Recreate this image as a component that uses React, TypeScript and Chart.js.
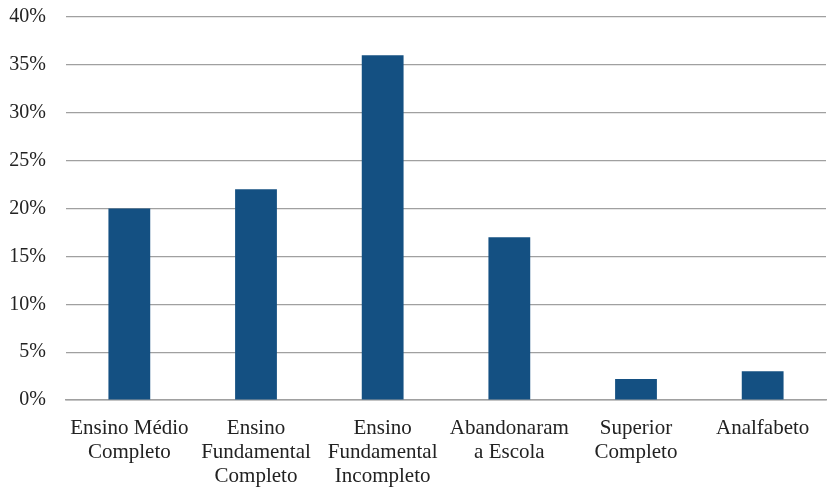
import React, { useEffect, useRef } from "react";
import { Chart, registerables } from "chart.js";

Chart.register(...registerables);

const categories: string[][] = [
  ["Ensino Médio", "Completo"],
  ["Ensino", "Fundamental", "Completo"],
  ["Ensino", "Fundamental", "Incompleto"],
  ["Abandonaram", "a Escola"],
  ["Superior", "Completo"],
  ["Analfabeto"],
];
const values: number[] = [20.0, 22.0, 36.0, 17.0, 2.2, 3.0];
const yMin = 0;
const yMax = 40;
const yStep = 5;

export default function App() {
  const ref = useRef<HTMLCanvasElement>(null);
  useEffect(() => {
    document.body.style.margin = "0";
    const family = "'Liberation Serif', 'DejaVu Serif', serif";
    const chart = new Chart(ref.current!, {
      type: "bar",
      data: {
        labels: categories,
        datasets: [
          {
            data: values,
            backgroundColor: "#145082",
            barPercentage: 0.33,
            categoryPercentage: 1,
          },
        ],
      },
      options: {
        animation: false,
        responsive: false,
        maintainAspectRatio: false,
        layout: { padding: { left: 9, right: 3, top: 17, bottom: 0 } },
        plugins: { legend: { display: false }, tooltip: { enabled: false } },
        scales: {
          x: {
            grid: { display: false, drawTicks: false },
            border: { display: true, color: "#a0a0a0", width: 1.5 },
            ticks: {
              color: "#222",
              font: { family, size: 21, lineHeight: "24px" },
              padding: 16,
              maxRotation: 0,
              minRotation: 0,
              autoSkip: false,
            },
            afterFit: (s: any) => {
              s.height = 88;
              s.paddingLeft = 0;
              s.paddingRight = 0;
              s.paddingTop = 0;
              s.paddingBottom = 0;
            },
          },
          y: {
            min: yMin,
            max: yMax,
            grid: { color: "#a0a0a0", lineWidth: 1.2, drawTicks: false },
            border: { display: false },
            ticks: {
              stepSize: yStep,
              color: "#222",
              font: { family, size: 20 },
              padding: 20,
              callback: (v) => `${v}%`,
            },
            afterFit: (s: any) => {
              s.width = 57;
              s.paddingLeft = 0;
              s.paddingRight = 0;
              s.paddingTop = 0;
              s.paddingBottom = 0;
            },
          },
        },
      },
    });
    return () => chart.destroy();
  }, []);
  return <canvas ref={ref} width={829} height={488} style={{ display: "block" }} />;
}
